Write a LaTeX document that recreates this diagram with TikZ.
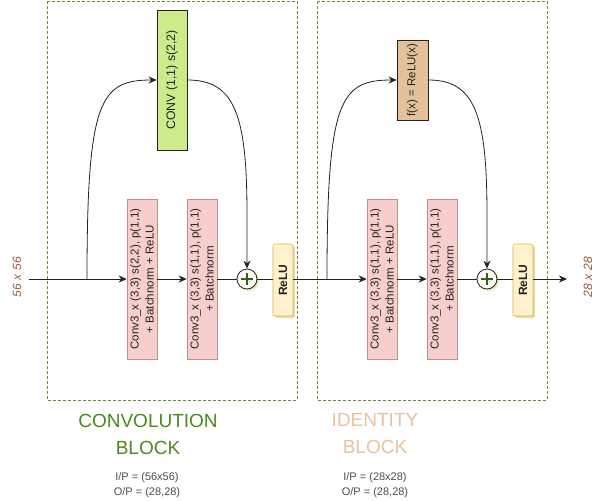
\documentclass[tikz,border=0pt]{standalone}
\usepackage{fontspec}
\setmainfont{Liberation Sans}
\usetikzlibrary{arrows.meta,shadows}
\definecolor{blockline}{HTML}{6A8A3A}
\definecolor{convfill}{HTML}{CDEB8B}
\definecolor{pinkfill}{HTML}{F8CECC}
\definecolor{pinkline}{HTML}{B8908C}
\definecolor{relufill}{HTML}{FFF2CC}
\definecolor{reluline}{HTML}{D6B656}
\definecolor{idfill}{HTML}{E5C19A}
\definecolor{convtitle}{HTML}{4D8A1E}
\definecolor{idtitle}{HTML}{E8C39A}
\definecolor{dimtext}{HTML}{9A5A3A}
\definecolor{ink}{HTML}{222222}
\begin{document}
\begin{tikzpicture}[x=1pt,y=-1pt,
  blockbox/.style={draw=blockline,dash pattern=on 3pt off 2pt,line width=0.7pt},
  layerbox/.style={draw=pinkline,fill=pinkfill,minimum width=30pt,minimum height=160pt,inner sep=0pt,line width=0.6pt},
  convbox/.style={draw=ink,fill=convfill,minimum width=30pt,minimum height=140pt,inner sep=0pt,line width=0.7pt},
  idbox/.style={draw=ink,fill=idfill,minimum width=31pt,minimum height=80pt,inner sep=0pt,line width=0.7pt},
  relubox/.style={draw=reluline,fill=relufill,rounded corners=2pt,minimum width=20pt,minimum height=72pt,inner sep=0pt,line width=0.6pt,drop shadow={shadow xshift=2pt,shadow yshift=-2pt,fill=reluline,opacity=0.5}},
  plusnode/.style={circle,draw=ink,fill=white,minimum size=20pt,inner sep=0pt,line width=0.8pt,drop shadow={shadow xshift=2pt,shadow yshift=-2pt,fill=reluline,opacity=0.4}},
  conn/.style={draw=ink,line width=0.8pt},
  arr/.style={conn,-{Stealth[length=8pt,width=7pt,inset=2.5pt]}},
  boxtext/.style={font=\fontsize{11.5}{15}\selectfont,text=ink,align=center,rotate=90},
  dimlabel/.style={font=\fontsize{12}{14}\selectfont\itshape,text=dimtext,rotate=90},
  title/.style={font=\fontsize{19}{27}\selectfont,align=center},
  iotext/.style={font=\fontsize{11}{15}\selectfont,text=ink!80,align=center}
]
\useasboundingbox (0,0) rectangle (606,501);
\fill[white] (0,0) rectangle (606,501);

% blocks
\draw[blockbox] (47,1) rectangle (297,400);
\draw[blockbox] (317,1) rectangle (547,400);

% convolution block
\node[convbox] (c11) at (172,80) {};
\node[boxtext,font=\fontsize{12.3}{15}\selectfont] at (c11) {CONV (1,1) s(2,2)};
\node[layerbox] (a1) at (142,279) {};
\node[boxtext] at (a1) {Conv3\_x (3,3) s(2,2), p(1,1)\\+ Batchnorm + ReLU};
\node[layerbox] (a2) at (202,279) {};
\node[boxtext] at (a2) {Conv3\_x (3,3) s(1,1), p(1,1)\\+ Batchnorm};
\node[plusnode] (p1) at (247,279) {};
\draw[convtitle!70!black,line width=1.2pt] ([xshift=-6pt]p1.center) -- ([xshift=6pt]p1.center) ([yshift=-6pt]p1.center) -- ([yshift=6pt]p1.center);
\node[relubox] (r1) at (283,280) {};
\node[boxtext,font=\fontsize{12}{14}\selectfont\bfseries] at (r1) {ReLU};

% identity block
\node[idbox] (fx) at (412.5,80) {};
\node[boxtext,font=\fontsize{11.5}{15}\selectfont] at (fx) {f(x) = ReLU(x)};
\node[layerbox] (b1) at (382,279) {};
\node[boxtext] at (b1) {Conv3\_x (3,3) s(1,1), p(1,1)\\+ Batchnorm + ReLU};
\node[layerbox] (b2) at (442,279) {};
\node[boxtext] at (b2) {Conv3\_x (3,3) s(1,1), p(1,1)\\+ Batchnorm};
\node[plusnode] (p2) at (487,279) {};
\draw[convtitle!70!black,line width=1.2pt] ([xshift=-6pt]p2.center) -- ([xshift=6pt]p2.center) ([yshift=-6pt]p2.center) -- ([yshift=6pt]p2.center);
\node[relubox] (r2) at (523,280) {};
\node[boxtext,font=\fontsize{12}{14}\selectfont\bfseries] at (r2) {ReLU};

% labels
\node[dimlabel] (inl) at (17,277) {56\,\,x\,\,56};
\node[dimlabel] (outl) at (588,277) {28\,\,x\,\,28};
\coordinate (in) at (29,279);
\coordinate (out) at (567,279);
\coordinate (s1) at (87,279);
\coordinate (s2) at (327,279);

% connectors conv block
\draw[conn] (in) -- (s1);
\draw[arr] (s1) -- (a1.west);
\draw[arr] (a1.east) -- (a2.west);
\draw[conn] (a2.east) -- (p1.west);
\draw[conn] (p1.east) -- (r1.west |- 0,279);
\draw[arr] (s1) .. controls (87,100) and (100,80) .. (c11.west |- 0,80);
\draw[arr] (c11.east |- 0,80) .. controls (235,80) and (247,115) .. (247,215) -- (p1.north);

% connectors identity block
\draw[conn] (r1.east |- 0,279) -- (s2);
\draw[arr] (s2) -- (b1.west);
\draw[arr] (b1.east) -- (b2.west);
\draw[conn] (b2.east) -- (p2.west);
\draw[conn] (p2.east) -- (r2.west |- 0,279);
\draw[arr] (r2.east |- 0,279) -- (out);
\draw[arr] (s2) .. controls (327,100) and (340,80) .. (fx.west |- 0,80);
\draw[arr] (fx.east |- 0,80) .. controls (475,80) and (487,115) .. (487,215) -- (p2.north);

% titles
\node[title,text=convtitle] (t1) at (148,434) {CONVOLUTION\\BLOCK};
\node[title,text=idtitle] (t2) at (375,434) {IDENTITY\\BLOCK};
\node[iotext] (io1) at (147,485.5) {I/P = (56x56)\\O/P = (28,28)};
\node[iotext] (io2) at (375,485.5) {I/P = (28x28)\\O/P = (28,28)};
\end{tikzpicture}
\end{document}
